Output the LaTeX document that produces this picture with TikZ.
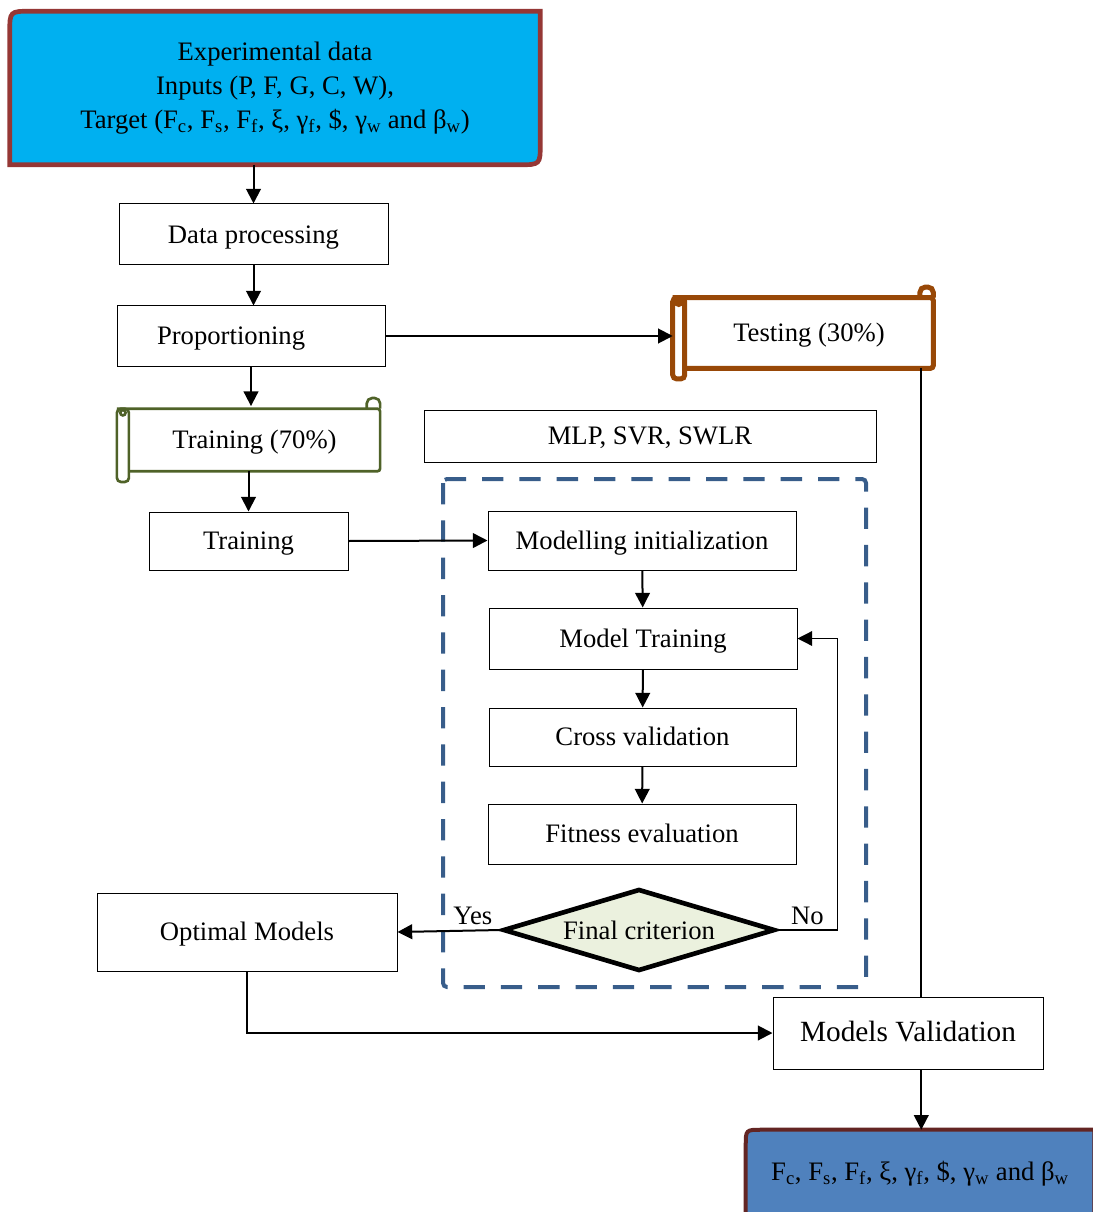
\documentclass[tikz,border=0pt]{standalone}
\usepackage{fontspec}
\setmainfont{Liberation Serif}
\usetikzlibrary{shapes.geometric,arrows.meta,backgrounds}

\definecolor{expblue}{HTML}{00B0F0}
\definecolor{expborder}{HTML}{953735}
\definecolor{testbrown}{HTML}{984807}
\definecolor{traingreen}{HTML}{4F6228}
\definecolor{dashblue}{HTML}{385D8A}
\definecolor{critfill}{HTML}{EBF1DE}
\definecolor{outblue}{HTML}{4F81BD}
\definecolor{outborder}{HTML}{632523}

% horizontal scroll round a node
\newcommand{\hscroll}[2]{%
  \draw[#2,rounded corners=3pt] ([xshift=-9pt]#1.north west) rectangle ([yshift=-8pt]#1.south west);
  \draw[#2,rounded corners=2pt] ([xshift=-9pt]#1.north west) -- (#1.north east) -- (#1.south east) -- (#1.south west);
  \draw[#2,rounded corners=4pt] ([xshift=-10pt]#1.north east) -- ([xshift=-10pt,yshift=8pt]#1.north east) -- ([yshift=8pt]#1.north east) -- (#1.north east);
  \draw[#2] ([xshift=-4.5pt,yshift=-3pt]#1.north west) circle (2pt);
}

\begin{document}
\begin{tikzpicture}[x=0.75pt,y=-0.75pt,>={Triangle[length=11pt,width=11pt]},
  every node/.style={font=\fontsize{20}{25.5}\selectfont},
  line1/.style={text height=17pt,text depth=4pt},
  box/.style={draw,line width=0.75pt,inner sep=0pt,align=center,line1},
  link/.style={line width=1.5pt}]
  \useasboundingbox (0,0) rectangle (1092,1212);

  \node[align=center,minimum width=397.5pt,minimum height=114.75pt] (exp) at (275,88)
    {Experimental data\\ Inputs (P, F, G, C, W),\\
     Target (F\textsubscript{c}, F\textsubscript{s}, F\textsubscript{f}, ξ, γ\textsubscript{f}, \$, γ\textsubscript{w} and β\textsubscript{w})};
  \node[box,minimum width=201.75pt,minimum height=45.75pt] (dp) at (253.5,234.5) {Data processing};
  \node[box,align=left,text width=141pt,inner xsep=30pt,minimum height=45pt] (prop) at (251,336) {Proportioning};
  \node[line1,minimum width=186pt,minimum height=52.5pt,inner sep=0pt] (test) at (809,333) {Testing (30\%)};
  \node[line1,minimum width=188pt,minimum height=46.5pt,inner sep=0pt] (train70) at (254.5,440) {Training (70\%)};
  \node[box,minimum width=149.25pt,minimum height=43.5pt] (train) at (248.5,541) {Training};
  \node[box,minimum width=339pt,minimum height=39pt] (mlp) at (650,436) {MLP, SVR, SWLR};
  \node[box,minimum width=231pt,minimum height=44.25pt] (init) at (642,540.5) {Modelling initialization};
  \node[box,minimum width=231pt,minimum height=45.75pt] (mtrain) at (643,638.5) {Model Training};
  \node[box,minimum width=230.25pt,minimum height=43.5pt] (cross) at (642.5,737) {Cross validation};
  \node[box,minimum width=231pt,minimum height=45pt] (fit) at (642,834) {Fitness evaluation};
  \node[diamond,aspect=3.3,draw,line width=3.5pt,fill=critfill,inner sep=0pt,
        minimum width=204pt,minimum height=61.5pt] (crit) at (639,930) {Final criterion};
  \node[box,minimum width=225pt,minimum height=58.5pt] (opt) at (247,932) {Optimal Models};
  \node[box,minimum width=202.5pt,minimum height=54pt,font=\fontsize{22}{26}\selectfont] (val) at (908,1033) {Models Validation};
  \node[line1,minimum width=261pt,minimum height=63pt] (out) at (920,1172)
    {F\textsubscript{c}, F\textsubscript{s}, F\textsubscript{f}, ξ, γ\textsubscript{f}, \$, γ\textsubscript{w} and β\textsubscript{w}};

  \begin{scope}[on background layer]
    \draw[line width=3.5pt,draw=expborder,fill=expblue]
      ([yshift=-16pt]exp.north west) .. controls (exp.north west) .. ([xshift=16pt]exp.north west)
      -- (exp.north east) -- ([yshift=16pt]exp.south east)
      .. controls (exp.south east) .. ([xshift=-16pt]exp.south east)
      -- (exp.south west) -- cycle;
    \draw[line width=3pt,draw=outborder,fill=outblue]
      ([yshift=-12pt]out.north west) .. controls (out.north west) .. ([xshift=12pt]out.north west)
      -- (out.north east) -- (out.south east) -- (out.south west) -- cycle;
  \end{scope}

  \hscroll{test}{testbrown,line width=3.75pt}
  \hscroll{train70}{traingreen,line width=2pt}

  % inner loop frame
  \draw[dashblue,line width=3pt,dash pattern=on 16pt off 12pt,rounded corners=3pt]
    (443,479) rectangle (866,987);

  \coordinate (tv) at ([xshift=-9pt]test.south east);

  \draw[link,->] (dp.north |- exp.south) -- (dp.north);
  \draw[link,->] (dp.south) -- (dp.south |- prop.north);
  \draw[link,->] (prop.east) -- ([xshift=-9pt]test.west |- prop.east);
  \draw[link,->] (prop.south) -- ([yshift=2pt]prop.south |- train70.north);
  \draw[link,->] (train.north |- train70.south) -- (train.north);
  \draw[link,->] (train.east) -- (init.west);
  \draw[link,->] (init) -- (mtrain);
  \draw[link,->] (mtrain) -- (cross);
  \draw[link,->] (cross) -- (fit);
  \draw[line width=1pt,->] (crit.east) -- node[above] {No} ++(60,0) |- (mtrain.east);
  \draw[link,->] (crit.west) -- node[above,pos=0.27] {Yes} (opt.east);
  \draw[link,->] (opt.south) |- (val.west);
  \draw[link] (tv) -- (tv |- val.north);
  \draw[link,->] (tv |- val.south) -- (tv |- out.north);
\end{tikzpicture}
\end{document}
